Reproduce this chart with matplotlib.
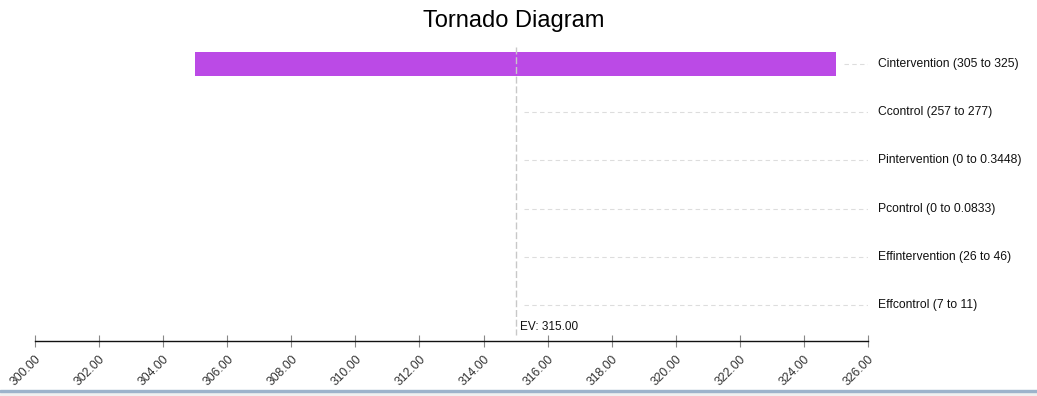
import matplotlib.pyplot as plt
from matplotlib.patches import Rectangle

# tornado data (outcome at low / high value of each input)
labels = ['Cintervention (305 to 325)', 'Ccontrol (257 to 277)',
          'Pintervention (0 to 0.3448)', 'Pcontrol (0 to 0.0833)',
          'Effintervention (26 to 46)', 'Effcontrol (7 to 11)']
low_vals = [305, 315, 315, 315, 315, 315]
high_vals = [325, 315, 315, 315, 315, 315]
ev = 315.0
xticks = [300, 302, 304, 306, 308, 310, 312, 314, 316, 318, 320, 322, 324, 326]

plt.rcParams['font.family'] = ['Liberation Sans', 'DejaVu Sans']

fig = plt.figure(figsize=(10.37, 3.96), dpi=100)
ax = fig.add_axes([35 / 1037, 55 / 396, 833 / 1037, 294 / 396])

xmin, xmax = xticks[0], xticks[-1]
for i, (lo, hi, lab) in enumerate(zip(low_vals, high_vals, labels)):
    ax.barh(i, hi - lo, left=lo, height=0.5, color='#bb4ae6', zorder=2)
    start = max(hi, ev) + 0.25
    ax.plot([start, xmax], [i, i], color='#dddddd', lw=0.8,
            dashes=(4, 3), zorder=1)
    ax.text(xmax + 0.3, i, lab, va='center', ha='left', fontsize=8.75,
            color='#111111')

ax.plot([ev, ev], [-0.35, 5.62], color='#c8c8c8', lw=1, dashes=(5, 2), zorder=3)
ax.text(ev + 0.15, 5.52, 'EV: %.2f' % ev, fontsize=8.5, ha='left',
        va='baseline', color='#111111')

ax.set_xlim(xmin, xmax)
ax.set_ylim(5.747, -0.353)
ax.set_yticks([])
ax.set_xticks(xticks)
ax.set_xticklabels(['%.2f' % t for t in xticks], rotation=45, ha='right',
                   va='top', rotation_mode='anchor', fontsize=8.75,
                   color='#333333')
ax.tick_params(axis='x', direction='inout', length=9, color='#888888',
               pad=4)
for s in ['top', 'left', 'right']:
    ax.spines[s].set_visible(False)
ax.spines['bottom'].set_color('#111111')
ax.spines['bottom'].set_linewidth(1)

fig.text(514 / 1037, 1 - 27 / 396, 'Tornado Diagram', ha='center',
         va='baseline', fontsize=17)

# window frame line at the bottom
fig.patches.append(Rectangle((0, 0), 1, 4 / 396, transform=fig.transFigure,
                             color='#f0f0f0', zorder=0))
fig.patches.append(Rectangle((0, 4 / 396), 1, 2.5 / 396,
                             transform=fig.transFigure, color='#9db3cb',
                             zorder=0))

fig.savefig('out.png', dpi=100)
